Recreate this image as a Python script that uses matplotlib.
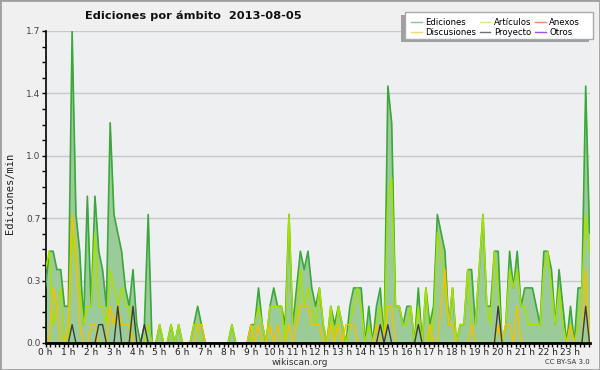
import matplotlib
matplotlib.use("Agg")
import matplotlib.pyplot as plt
from matplotlib.lines import Line2D
from matplotlib.patches import Rectangle
import numpy as np

# edits per 10-minute slot, 144 slots for 2013-08-05
ediciones = [3, 5, 5, 4, 4, 2, 2, 17, 7, 5, 1, 8, 2, 8, 5, 4, 2, 12, 7, 6, 5, 3, 2, 4,
             1, 0, 1, 7, 0, 0, 1, 0, 0, 1, 0, 1, 0, 0, 0, 1, 2, 1, 0, 0, 0, 0, 0, 0,
             0, 1, 0, 0, 0, 0, 1, 1, 3, 1, 0, 2, 3, 2, 2, 1, 7, 1, 3, 5, 4, 5, 3, 2,
             3, 1, 0, 2, 1, 2, 1, 0, 2, 3, 3, 3, 0, 2, 0, 2, 3, 0, 14, 12, 2, 2, 1, 2,
             2, 0, 3, 0, 3, 1, 2, 7, 6, 5, 1, 3, 0, 1, 1, 4, 4, 1, 4, 7, 2, 2, 5, 5,
             0, 1, 5, 3, 5, 2, 3, 3, 3, 2, 1, 5, 5, 4, 1, 4, 2, 0, 2, 0, 3, 3, 14, 6]
articulos = [4, 5, 1, 2, 3, 0, 0, 6, 4, 3, 1, 2, 2, 6, 2, 2, 1, 4, 3, 2, 3, 2, 2, 0,
             0, 0, 0, 1, 0, 0, 1, 0, 0, 1, 0, 1, 0, 0, 0, 1, 1, 0, 0, 0, 0, 0, 0, 0,
             0, 1, 0, 0, 0, 0, 0, 1, 2, 1, 0, 2, 2, 2, 2, 0, 7, 1, 1, 4, 2, 3, 2, 1,
             3, 1, 0, 2, 0, 2, 1, 0, 1, 2, 3, 2, 0, 1, 0, 1, 2, 0, 8, 9, 2, 2, 1, 1,
             2, 0, 2, 0, 3, 0, 1, 6, 5, 3, 1, 3, 0, 1, 1, 4, 1, 1, 4, 7, 2, 1, 5, 3,
             0, 1, 4, 3, 4, 2, 2, 1, 1, 1, 1, 4, 5, 3, 1, 3, 1, 0, 1, 0, 1, 3, 7, 5]
discusiones = [0, 0, 3, 2, 0, 0, 1, 7, 5, 1, 0, 0, 1, 1, 0, 0, 0, 2, 1, 2, 1, 1, 1, 0,
               0, 0, 0, 0, 0, 0, 0, 0, 0, 0, 0, 0, 0, 0, 0, 0, 1, 1, 0, 0, 0, 0, 0, 0,
               0, 0, 0, 0, 0, 0, 1, 0, 1, 0, 0, 1, 0, 1, 0, 0, 1, 0, 1, 2, 2, 2, 1, 1,
               1, 0, 0, 1, 0, 1, 0, 1, 1, 1, 0, 0, 0, 0, 0, 1, 0, 0, 2, 2, 0, 0, 0, 0,
               0, 0, 0, 0, 0, 1, 0, 0, 2, 4, 1, 1, 0, 0, 0, 0, 1, 0, 0, 0, 0, 0, 0, 1,
               0, 1, 1, 0, 2, 0, 0, 0, 0, 0, 0, 0, 0, 0, 0, 0, 0, 0, 1, 0, 0, 0, 4, 0]
proyecto = [0, 0, 0, 0, 0, 0, 0, 1, 0, 0, 0, 0, 0, 0, 1, 1, 0, 0, 0, 2, 0, 0, 0, 2,
            0, 0, 1, 0, 0, 0, 0, 0, 0, 0, 0, 0, 0, 0, 0, 0, 0, 0, 0, 0, 0, 0, 0, 0,
            0, 0, 0, 0, 0, 0, 0, 0, 0, 0, 0, 0, 0, 0, 0, 0, 0, 0, 0, 0, 0, 0, 0, 0,
            0, 0, 0, 0, 0, 0, 0, 0, 0, 0, 0, 0, 0, 0, 0, 0, 1, 0, 1, 0, 0, 0, 0, 0,
            0, 0, 1, 0, 0, 0, 0, 0, 0, 0, 0, 0, 0, 0, 0, 0, 0, 0, 0, 0, 0, 0, 0, 2,
            0, 0, 0, 0, 0, 0, 0, 0, 0, 0, 0, 0, 0, 0, 0, 0, 0, 0, 0, 0, 0, 0, 2, 0]
anexos = [0] * 144
otros = [0] * 144

hour_labels = ["%d h" % h for h in range(24)]
y_max = 1.7

# slot counts -> edits per minute
slot_min = 10.0
hours = np.arange(len(ediciones)) / 6.0

fig = plt.figure(figsize=(6, 3.7), dpi=100, facecolor="#f0f0f0")
ax = fig.add_axes([45.5 / 600, 27 / 370, 544 / 600, 312 / 370])
ax.set_facecolor("#eeeff1")

ed = np.array(ediciones) / slot_min
ax.fill_between(hours, ed, color="#9ccb9a", lw=0, zorder=2)
ax.plot(hours, ed, color="#3aa83a", lw=1.2, zorder=3)
ax.plot(hours, np.array(articulos) / slot_min, color="#a8e000", lw=1.1, zorder=4)
ax.plot(hours, np.array(discusiones) / slot_min, color="#f2c200", lw=1.1, zorder=5)
ax.plot(hours, np.array(proyecto) / slot_min, color="#3c3c3c", lw=1.0, zorder=6)
ax.plot(hours, np.array(anexos) / slot_min, color="#f08050", lw=1.0, zorder=1)
ax.plot(hours, np.array(otros) / slot_min, color="#9040e0", lw=1.0, zorder=1)

ax.set_xlim(0, hours[-1])
ax.set_ylim(0, y_max)

yt = np.linspace(0, y_max, 6)
ax.set_yticks(yt)
ax.set_yticklabels(["%.1f" % v for v in yt], fontsize=6.5, color="#444444")
ax.set_yticks(np.arange(0, y_max + 0.01, y_max / 20), minor=True)
ax.set_xticks(range(24))
ax.set_xticklabels(hour_labels, fontsize=6.5, color="#222222")
ax.set_xticks(np.arange(0, hours[-1], 0.2), minor=True)
ax.tick_params(axis="both", which="both", direction="out", length=3, width=1, color="black", pad=0.5)
ax.grid(axis="y", color="#c8c8c8", lw=1)
ax.set_axisbelow(True)

for s in ["top", "right"]:
    ax.spines[s].set_visible(False)
ax.spines["left"].set_linewidth(1.2)
ax.spines["bottom"].set_linewidth(2)
ax.spines["bottom"].set_zorder(10)

fig.text(85 / 600, 1 - 16 / 370, "Ediciones por ámbito  2013-08-05", fontsize=8.2,
         fontweight="bold", va="center", ha="left", color="#111111")
fig.text(10 / 600, 1 - 193 / 370, "Ediciones/min", rotation=90, fontsize=7.5,
         family="DejaVu Sans Mono", va="center", ha="center", color="#222222")
fig.text(300 / 600, 1 - 362.5 / 370, "wikiscan.org", fontsize=6.5, ha="center", va="center", color="#333333")
fig.text(590 / 600, 1 - 362.5 / 370, "CC BY-SA 3.0", fontsize=5, ha="right", va="center", color="#333333")

# legend box with shadow to the lower left
fig.patches.append(Rectangle((401 / 600, 1 - 42 / 370), 188 / 600, 27 / 370, transform=fig.transFigure,
                             facecolor="#a0a0a0", edgecolor="none", zorder=0))
fig.patches.append(Rectangle((405 / 600, 1 - 39 / 370), 188 / 600, 27 / 370, transform=fig.transFigure,
                             facecolor="white", edgecolor="#aaaaaa", lw=1, zorder=1))
handles = [Line2D([], [], color=c, lw=1) for c in
           ["#88c888", "#f8d860", "#d0f070", "#707070", "#f08860", "#a050e0"]]
names = ["Ediciones", "Discusiones", "Artículos", "Proyecto", "Anexos", "Otros"]
fig.legend(handles, names, loc="upper left", bbox_to_anchor=(405 / 600, 1 - 11.5 / 370), ncol=3,
           frameon=False, fontsize=6.1, handlelength=1.2, handletextpad=0.45, columnspacing=0.45,
           labelspacing=0.1, borderpad=0.25)

fig.patches.append(Rectangle((0, 0), 1, 1, transform=fig.transFigure, facecolor="none",
                             edgecolor="#a0a0a0", lw=2))

fig.savefig("out.png", dpi=100, facecolor=fig.get_facecolor())
